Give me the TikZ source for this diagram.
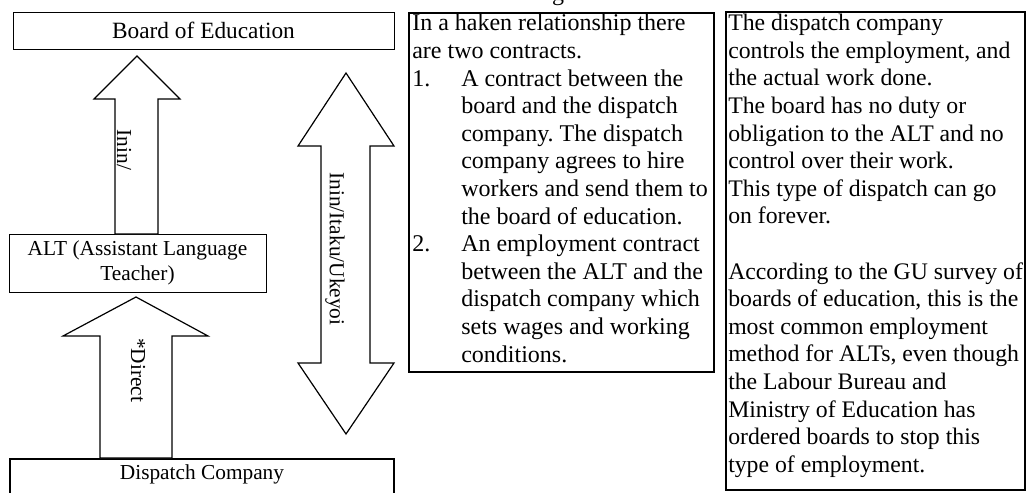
\documentclass[tikz,border=0pt]{standalone}
\usepackage{fontspec}
\setmainfont{Liberation Serif}
\frenchspacing
\newcommand\itmlabel[1]{\makebox[36.75pt][l]{#1}}
\newcommand\itmindent{\hspace*{36.75pt}}
\begin{document}
\begin{tikzpicture}[x=0.75pt,y=-0.75pt,
  box/.style={draw, line width=0.9pt},
  blockarrow/.style={draw, line width=0.9pt, fill=white, line join=miter},
  lbl/.style={font=\fontsize{16}{18.4}\selectfont\frenchspacing, inner sep=0pt, align=center},
  vlbl/.style={font=\fontsize{16}{18.4}\selectfont, inner sep=0pt, rotate=-90},
  body/.style={font=\fontsize{18}{20.7}\selectfont\frenchspacing, inner sep=0pt, align=left, anchor=north west}]
\useasboundingbox (0,0) rectangle (1030,492);

% partially visible title
\node[font=\fontsize{18}{20}\selectfont, inner sep=0pt, anchor=base] (title) at (552,1) {ng};

% left boxes
\node[box, anchor=north west, minimum width=285.75pt, minimum height=27.75pt, inner sep=0pt] (boardbox) at (13,12) {};
\node[lbl, font=\fontsize{17.5}{20}\selectfont] (board) at (203.5,30) {Board of Education};
\node[box, anchor=north west, minimum width=192.75pt, minimum height=43.5pt, inner sep=0pt] (altbox) at (9,234) {};
\node[lbl] (alt) at (137.5,263) {ALT (Assistant Language\\Teacher)};
\draw[box] (10,510) -- (10,459) coordinate (dtl) -- (394,459) coordinate (dtr) -- (394,510);
\node[lbl] (dispatch) at (202,474) {Dispatch Company};

% block arrows
\draw[blockarrow] (137,56) -- (180,99) -- (158,99) -- (158,234) -- (115,234) -- (115,99) -- (94,99) -- cycle;
\node[vlbl] (inin) at (124,150) {Inin/};
\draw[blockarrow] (136,297) -- (208,336) -- (172,336) -- (172,458) -- (100,458) -- (100,336) -- (63,336) -- cycle;
\node[vlbl] (direct) at (138,370) {*Direct};
\draw[blockarrow] (346,73) -- (394,146) -- (370,146) -- (370,363) -- (394,363) -- (346,434) -- (298,363) -- (321,363) -- (321,146) -- (298,146) -- cycle;
\node[vlbl] (itaku) at (335,249) {Inin/Itaku/Ukeyoi};

% middle text box
\draw[box] (409,13) rectangle (714,372);
\node[body] (contracts) at (412,14) {In a haken relationship there\\
are two contracts.\\
\itmlabel{1.}A contract between the\\
\itmindent board and the dispatch\\
\itmindent company. The dispatch\\
\itmindent company agrees to hire\\
\itmindent workers and send them to\\
\itmindent the board of education.\\
\itmlabel{2.}An employment contract\\
\itmindent between the ALT and the\\
\itmindent dispatch company which\\
\itmindent sets wages and working\\
\itmindent conditions.};

% right text box
\draw[box] (726,12) rectangle (1025,490);
\node[body, font=\fontsize{17.8}{20.7}\selectfont\frenchspacing] (notes) at (728,14) {The dispatch company\\
controls the employment, and\\
the actual work done.\\
The board has no duty or\\
obligation to the ALT and no\\
control over their work.\\
This type of dispatch can go\\
on forever.\\[20.7pt]
According to the GU survey of\\
boards of education, this is the\\
most common employment\\
method for ALTs, even though\\
the Labour Bureau and\\
Ministry of Education has\\
ordered boards to stop this\\
type of employment.};
\end{tikzpicture}
\end{document}
